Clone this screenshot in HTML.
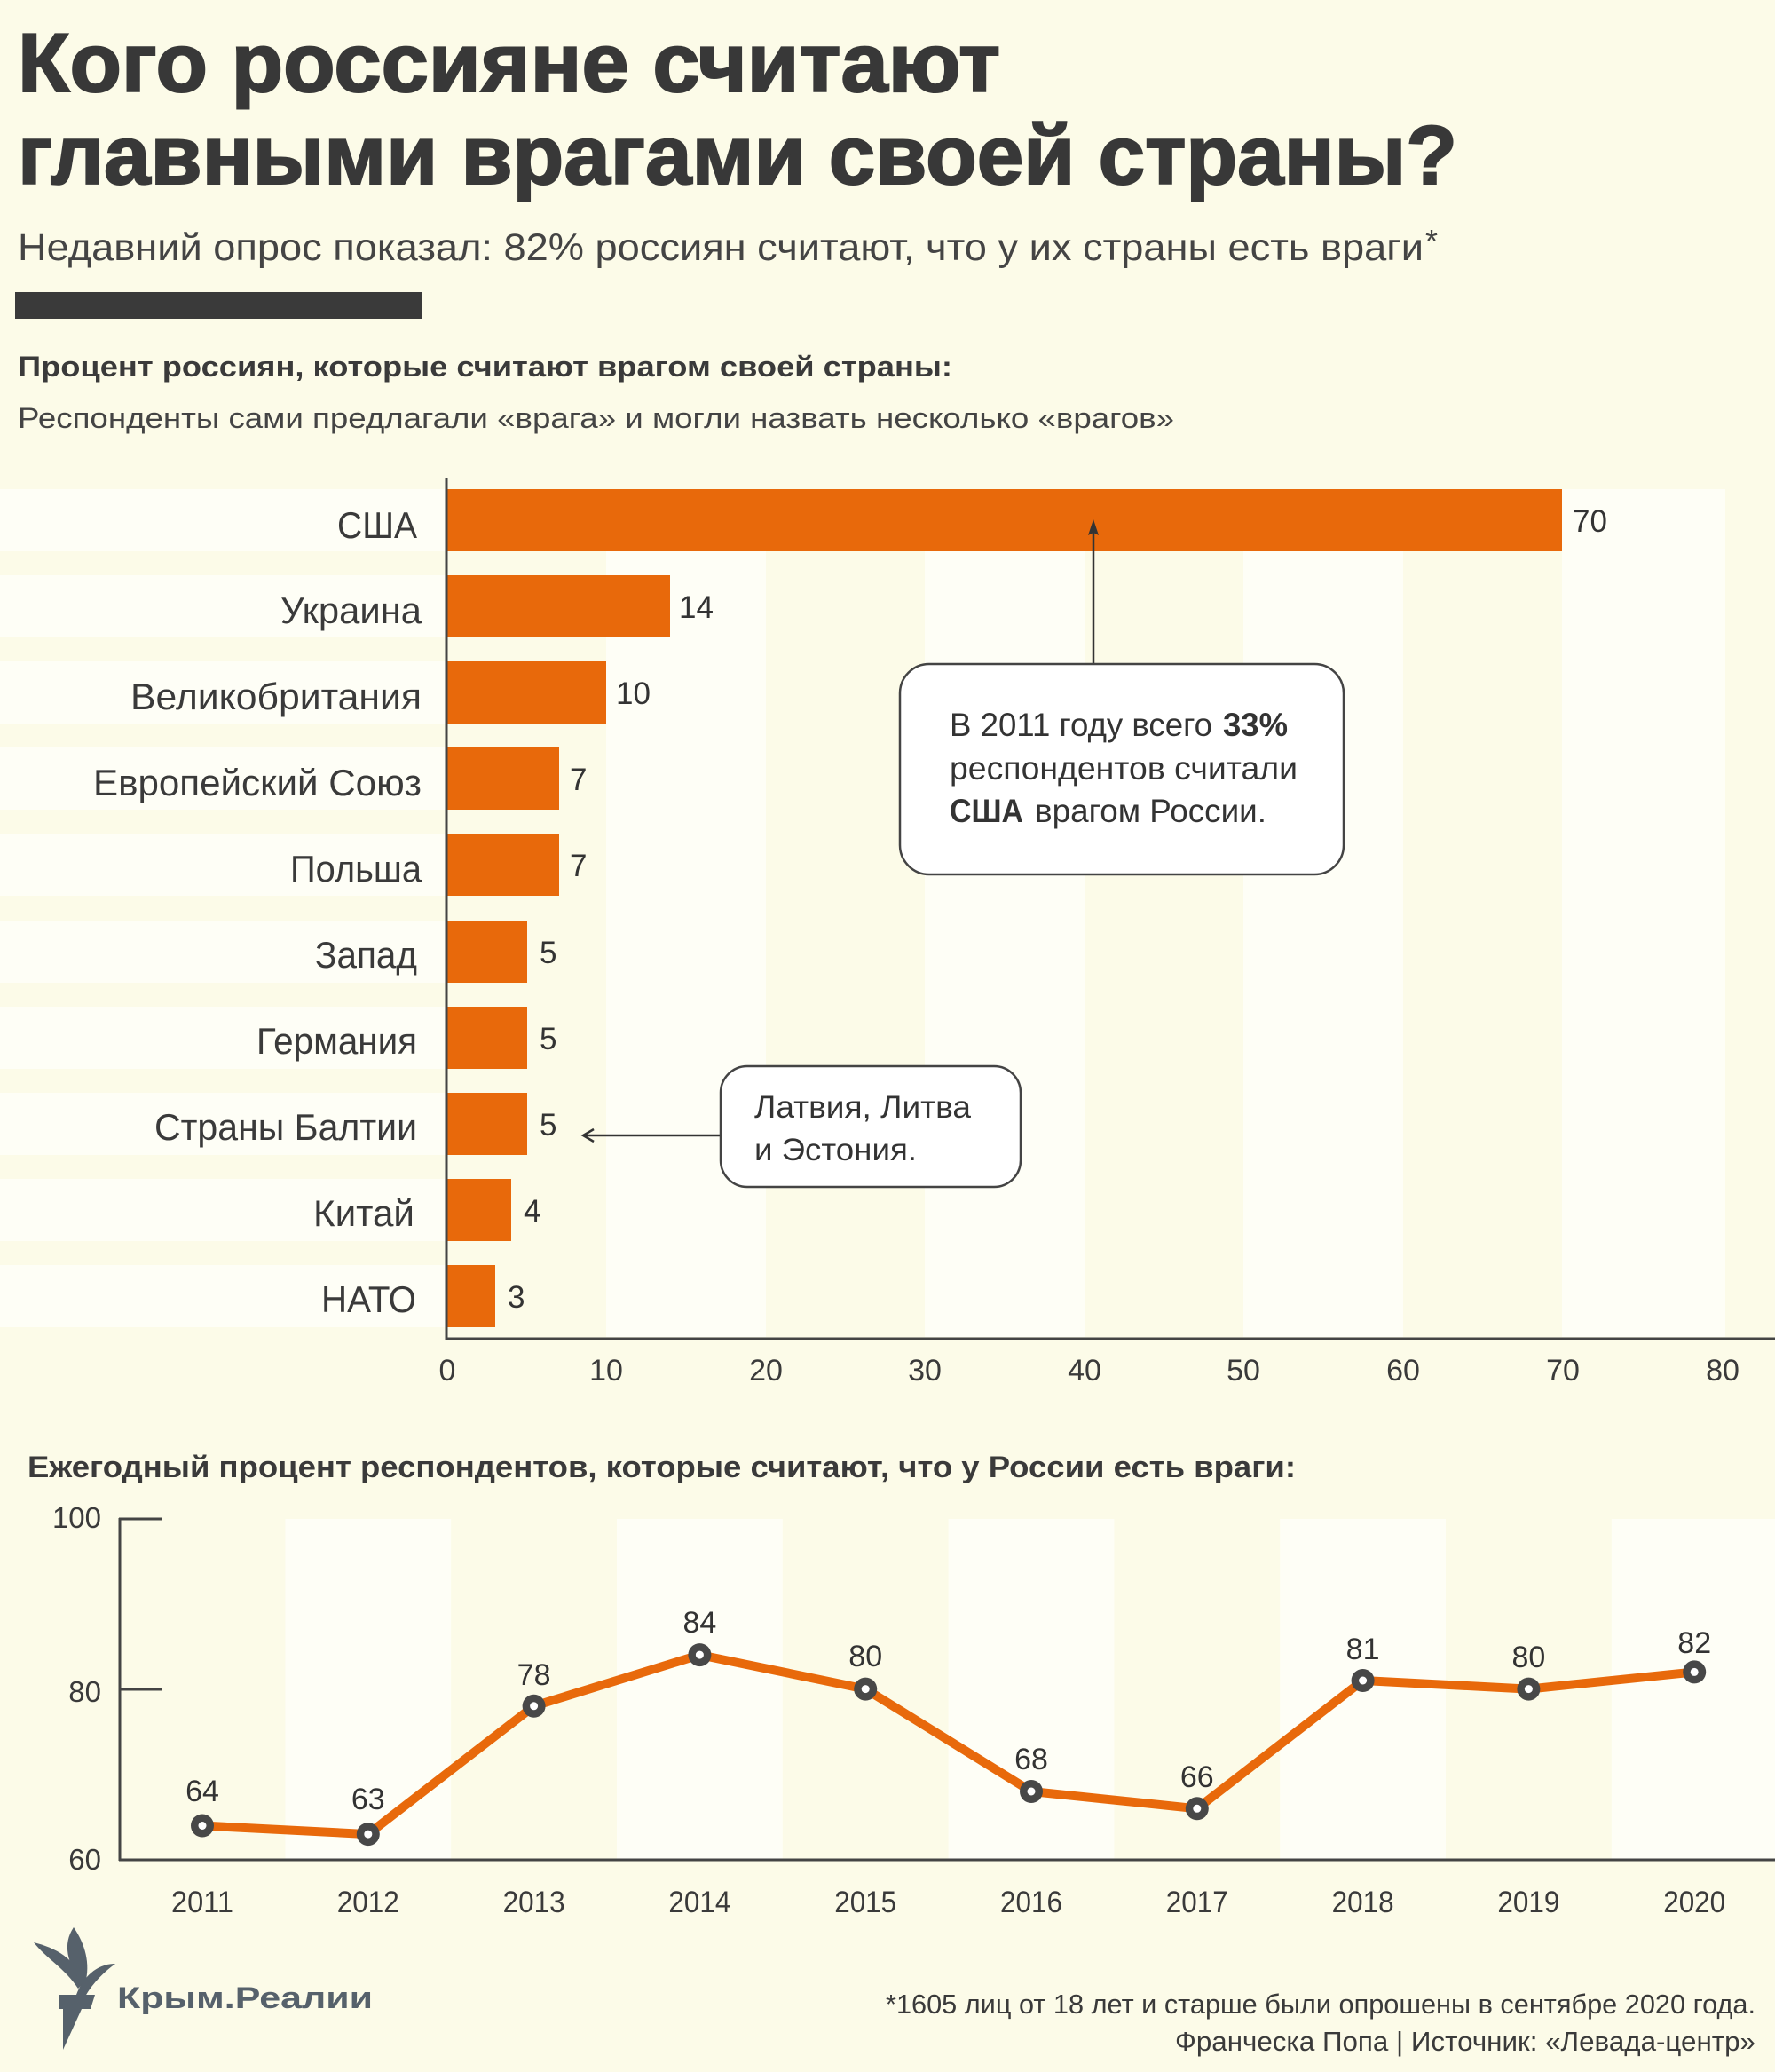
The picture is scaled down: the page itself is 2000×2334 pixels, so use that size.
<!DOCTYPE html>
<html lang="ru">
<head>
<meta charset="utf-8">
<style>
  html,body{margin:0;padding:0;background:#fcfbe8;}
  body{width:2000px;height:2334px;overflow:hidden;}
  svg{display:block;}
  text{font-family:"Liberation Sans","DejaVu Sans",sans-serif;}
</style>
</head>
<body>
<svg width="2000" height="2334" viewBox="0 0 2000 2334" xmlns="http://www.w3.org/2000/svg">
  <rect x="0" y="0" width="2000" height="2334" fill="#fcfbe8"/>

  <!-- Title -->
  <text x="20" y="103" font-size="94" font-weight="bold" fill="#383838" stroke="#383838" stroke-width="2" textLength="1107" lengthAdjust="spacingAndGlyphs">Кого россияне считают</text>
  <text x="20" y="207" font-size="94" font-weight="bold" fill="#383838" stroke="#383838" stroke-width="2" textLength="1622" lengthAdjust="spacingAndGlyphs">главными врагами своей страны?</text>

  <!-- Subtitle -->
  <text x="20" y="293" font-size="43" fill="#444" textLength="1584" lengthAdjust="spacingAndGlyphs">Недавний опрос показал: 82% россиян считают, что у их страны есть враги</text>
  <text x="1606" y="284" font-size="36" fill="#444">*</text>

  <rect x="17" y="329" width="458" height="30" fill="#3a3a3a"/>

  <text x="20" y="424" font-size="32" font-weight="bold" fill="#3a3a3a" textLength="1053" lengthAdjust="spacingAndGlyphs">Процент россиян, которые считают врагом своей страны:</text>
  <text x="20" y="482" font-size="32" fill="#444" textLength="1303" lengthAdjust="spacingAndGlyphs">Респонденты сами предлагали «врага» и могли назвать несколько «врагов»</text>

  <!-- Bar chart backgrounds: row bands left of axis -->
  <g fill="#fefef6">
    <rect x="0" y="551" width="502" height="70"/>
    <rect x="0" y="648" width="502" height="70"/>
    <rect x="0" y="745" width="502" height="70"/>
    <rect x="0" y="842" width="502" height="70"/>
    <rect x="0" y="939" width="502" height="70"/>
    <rect x="0" y="1037" width="502" height="70"/>
    <rect x="0" y="1134" width="502" height="70"/>
    <rect x="0" y="1231" width="502" height="70"/>
    <rect x="0" y="1328" width="502" height="70"/>
    <rect x="0" y="1425" width="502" height="70"/>
    <!-- column bands -->
    <rect x="683" y="551" width="180" height="955"/>
    <rect x="1042" y="551" width="180" height="955"/>
    <rect x="1401" y="551" width="180" height="955"/>
    <rect x="1760" y="551" width="184" height="955"/>
  </g>

  <!-- Bars -->
  <g fill="#e8690b">
    <rect x="504" y="551" width="1256" height="70"/>
    <rect x="504" y="648" width="251" height="70"/>
    <rect x="504" y="745" width="179" height="70"/>
    <rect x="504" y="842" width="126" height="70"/>
    <rect x="504" y="939" width="126" height="70"/>
    <rect x="504" y="1037" width="90" height="70"/>
    <rect x="504" y="1134" width="90" height="70"/>
    <rect x="504" y="1231" width="90" height="70"/>
    <rect x="504" y="1328" width="72" height="70"/>
    <rect x="504" y="1425" width="54" height="70"/>
  </g>

  <!-- Axes -->
  <line x1="503" y1="538" x2="503" y2="1509" stroke="#444" stroke-width="3"/>
  <line x1="502" y1="1508" x2="2000" y2="1508" stroke="#444" stroke-width="3"/>

  <!-- Category labels -->
  <g font-size="42" fill="#3a3a3a" text-anchor="end">
    <text x="470" y="606" textLength="90" lengthAdjust="spacingAndGlyphs">США</text>
    <text x="475" y="702" textLength="159" lengthAdjust="spacingAndGlyphs">Украина</text>
    <text x="475" y="799" textLength="328" lengthAdjust="spacingAndGlyphs">Великобритания</text>
    <text x="475" y="896" textLength="370" lengthAdjust="spacingAndGlyphs">Европейский Союз</text>
    <text x="475" y="993" textLength="148" lengthAdjust="spacingAndGlyphs">Польша</text>
    <text x="470" y="1090" textLength="115" lengthAdjust="spacingAndGlyphs">Запад</text>
    <text x="470" y="1187" textLength="181" lengthAdjust="spacingAndGlyphs">Германия</text>
    <text x="470" y="1284" textLength="296" lengthAdjust="spacingAndGlyphs">Страны Балтии</text>
    <text x="467" y="1381" textLength="114" lengthAdjust="spacingAndGlyphs">Китай</text>
    <text x="469" y="1478" textLength="107" lengthAdjust="spacingAndGlyphs">НАТО</text>
  </g>

  <!-- Value labels -->
  <g font-size="35" fill="#333">
    <text x="1772" y="599">70</text>
    <text x="765" y="696">14</text>
    <text x="694" y="793">10</text>
    <text x="642" y="890">7</text>
    <text x="642" y="987">7</text>
    <text x="608" y="1085">5</text>
    <text x="608" y="1182">5</text>
    <text x="608" y="1279">5</text>
    <text x="590" y="1376">4</text>
    <text x="572" y="1473">3</text>
  </g>

  <!-- X tick labels -->
  <g font-size="34" fill="#3a3a3a" text-anchor="middle">
    <text x="504" y="1555">0</text>
    <text x="683" y="1555">10</text>
    <text x="863" y="1555">20</text>
    <text x="1042" y="1555">30</text>
    <text x="1222" y="1555">40</text>
    <text x="1401" y="1555">50</text>
    <text x="1581" y="1555">60</text>
    <text x="1761" y="1555">70</text>
    <text x="1941" y="1555">80</text>
  </g>

  <!-- Annotation 1 -->
  <line x1="1232" y1="748" x2="1232" y2="598" stroke="#333" stroke-width="2.5"/>
  <polygon points="1232,585 1238,603 1232,600 1226,603" fill="#333"/>
  <rect x="1014" y="748" width="500" height="237" rx="33" ry="33" fill="#ffffff" stroke="#444" stroke-width="2.5"/>
  <g font-size="37" fill="#333">
    <text x="1070" y="829" textLength="296" lengthAdjust="spacingAndGlyphs">В 2011 году всего</text>
    <text x="1378" y="829" font-weight="bold" textLength="73" lengthAdjust="spacingAndGlyphs">33%</text>
    <text x="1070" y="878" textLength="392" lengthAdjust="spacingAndGlyphs">респондентов считали</text>
    <text x="1070" y="926" font-weight="bold" textLength="83" lengthAdjust="spacingAndGlyphs">США</text>
    <text x="1166" y="926" textLength="261" lengthAdjust="spacingAndGlyphs">врагом России.</text>
  </g>

  <!-- Annotation 2 -->
  <line x1="812" y1="1279" x2="658" y2="1279" stroke="#333" stroke-width="2.5"/>
  <polyline points="669,1272 657,1279 669,1286" fill="none" stroke="#333" stroke-width="2.5"/>
  <rect x="812" y="1201" width="338" height="136" rx="30" ry="30" fill="#ffffff" stroke="#444" stroke-width="2.5"/>
  <g font-size="35" fill="#333">
    <text x="850" y="1259" textLength="244" lengthAdjust="spacingAndGlyphs">Латвия, Литва</text>
    <text x="850" y="1307" textLength="183" lengthAdjust="spacingAndGlyphs">и Эстония.</text>
  </g>

  <!-- Line chart heading -->
  <text x="31" y="1664" font-size="34" font-weight="bold" fill="#3a3a3a" textLength="1429" lengthAdjust="spacingAndGlyphs">Ежегодный процент респондентов, которые считают, что у России есть враги:</text>

  <!-- Line chart bands (even years) -->
  <g fill="#fefef6">
    <rect x="321.4" y="1711" width="186.8" height="383"/>
    <rect x="695" y="1711" width="186.8" height="383"/>
    <rect x="1068.6" y="1711" width="186.8" height="383"/>
    <rect x="1442.2" y="1711" width="186.8" height="383"/>
    <rect x="1815.8" y="1711" width="186.8" height="383"/>
  </g>

  <!-- Line chart axes -->
  <line x1="135" y1="1710" x2="135" y2="2096" stroke="#444" stroke-width="3"/>
  <line x1="134" y1="1711" x2="183" y2="1711" stroke="#444" stroke-width="3"/>
  <line x1="134" y1="1903" x2="183" y2="1903" stroke="#444" stroke-width="3"/>
  <line x1="134" y1="2095" x2="2000" y2="2095" stroke="#444" stroke-width="3"/>

  <g font-size="33" fill="#3a3a3a" text-anchor="end">
    <text x="114" y="1721">100</text>
    <text x="114" y="1917">80</text>
    <text x="114" y="2106">60</text>
  </g>

  <!-- Line -->
  <polyline points="228,2056.5 414.8,2066.1 601.6,1921.8 788.4,1864.1 975.2,1902.6 1162,2018 1348.8,2037.3 1535.6,1893 1722.4,1902.6 1909.2,1883.4"
    fill="none" stroke="#e8690b" stroke-width="10" stroke-linejoin="round" stroke-linecap="round"/>

  <!-- Markers -->
  <g fill="#484848">
    <circle cx="228" cy="2056.5" r="13"/>
    <circle cx="414.8" cy="2066.1" r="13"/>
    <circle cx="601.6" cy="1921.8" r="13"/>
    <circle cx="788.4" cy="1864.1" r="13"/>
    <circle cx="975.2" cy="1902.6" r="13"/>
    <circle cx="1162" cy="2018" r="13"/>
    <circle cx="1348.8" cy="2037.3" r="13"/>
    <circle cx="1535.6" cy="1893" r="13"/>
    <circle cx="1722.4" cy="1902.6" r="13"/>
    <circle cx="1909.2" cy="1883.4" r="13"/>
  </g>
  <g fill="#ffffff">
    <circle cx="228" cy="2056.5" r="4.5"/>
    <circle cx="414.8" cy="2066.1" r="4.5"/>
    <circle cx="601.6" cy="1921.8" r="4.5"/>
    <circle cx="788.4" cy="1864.1" r="4.5"/>
    <circle cx="975.2" cy="1902.6" r="4.5"/>
    <circle cx="1162" cy="2018" r="4.5"/>
    <circle cx="1348.8" cy="2037.3" r="4.5"/>
    <circle cx="1535.6" cy="1893" r="4.5"/>
    <circle cx="1722.4" cy="1902.6" r="4.5"/>
    <circle cx="1909.2" cy="1883.4" r="4.5"/>
  </g>

  <!-- Point labels -->
  <g font-size="34" fill="#333" text-anchor="middle">
    <text x="228" y="2029">64</text>
    <text x="414.8" y="2038">63</text>
    <text x="601.6" y="1898">78</text>
    <text x="788.4" y="1839">84</text>
    <text x="975.2" y="1877">80</text>
    <text x="1162" y="1993">68</text>
    <text x="1348.8" y="2013">66</text>
    <text x="1535.6" y="1869">81</text>
    <text x="1722.4" y="1878">80</text>
    <text x="1909.2" y="1862">82</text>
  </g>

  <!-- Year labels -->
  <g font-size="34" fill="#3a3a3a" text-anchor="middle">
    <text x="228" y="2154" textLength="70" lengthAdjust="spacingAndGlyphs">2011</text>
    <text x="414.8" y="2154" textLength="70" lengthAdjust="spacingAndGlyphs">2012</text>
    <text x="601.6" y="2154" textLength="70" lengthAdjust="spacingAndGlyphs">2013</text>
    <text x="788.4" y="2154" textLength="70" lengthAdjust="spacingAndGlyphs">2014</text>
    <text x="975.2" y="2154" textLength="70" lengthAdjust="spacingAndGlyphs">2015</text>
    <text x="1162" y="2154" textLength="70" lengthAdjust="spacingAndGlyphs">2016</text>
    <text x="1348.8" y="2154" textLength="70" lengthAdjust="spacingAndGlyphs">2017</text>
    <text x="1535.6" y="2154" textLength="70" lengthAdjust="spacingAndGlyphs">2018</text>
    <text x="1722.4" y="2154" textLength="70" lengthAdjust="spacingAndGlyphs">2019</text>
    <text x="1909.2" y="2154" textLength="70" lengthAdjust="spacingAndGlyphs">2020</text>
  </g>

  <!-- Logo -->
  <g fill="#56616b">
    <path d="M88,2240 C74,2218 52,2206 38,2188 C62,2194 86,2206 94,2234 Z"/>
    <path d="M92,2234 C76,2212 70,2190 83,2171 C96,2190 102,2212 96,2234 Z"/>
    <path d="M86,2247 C94,2226 110,2212 130,2212 C116,2222 103,2236 96,2249 Z"/>
    <polygon points="66,2247 107,2247 102,2263 66,2263"/>
    <polygon points="71,2263 92,2263 71,2309"/>
    <text x="132" y="2262" font-size="34" font-weight="bold" textLength="288" lengthAdjust="spacingAndGlyphs">Крым.Реалии</text>
  </g>

  <!-- Footer -->
  <g font-size="31" fill="#3a3a3a" text-anchor="end">
    <text x="1978" y="2268" textLength="980" lengthAdjust="spacingAndGlyphs">*1605 лиц от 18 лет и старше были опрошены в сентябре 2020 года.</text>
    <text x="1978" y="2310" textLength="654" lengthAdjust="spacingAndGlyphs">Франческа Попа | Источник: «Левада-центр»</text>
  </g>
</svg>
</body>
</html>
